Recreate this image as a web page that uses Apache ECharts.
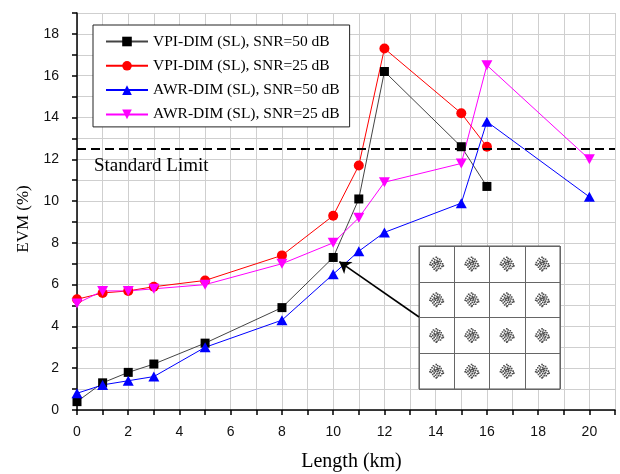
<!DOCTYPE html>
<html>
<head>
<meta charset="utf-8">
<script src="https://cdn.jsdelivr.net/npm/echarts@6/dist/echarts.min.js"></script>
<style>html,body{margin:0;padding:0;background:#fff;}#c{width:620px;height:474px;}</style>
</head>
<body>
<div id="c"></div>
<script>
// ---- data ----
const lengthVPI = [0, 1, 2, 3, 5, 8, 10, 11, 12, 15, 16];
const lengthAWR = [0, 1, 2, 3, 5, 8, 10, 11, 12, 15, 16, 20];
const vpiSnr50 = [0.4, 1.3, 1.8, 2.2, 3.2, 4.9, 7.3, 10.1, 16.2, 12.6, 10.7];
const vpiSnr25 = [5.3, 5.6, 5.7, 5.9, 6.2, 7.4, 9.3, 11.7, 17.3, 14.2, 12.6];
const awrSnr50 = [0.8, 1.2, 1.4, 1.6, 3.0, 4.3, 6.5, 7.6, 8.5, 9.9, 13.8, 10.2];
const awrSnr25 = [5.1, 5.7, 5.7, 5.8, 6.0, 7.0, 8.0, 9.2, 10.9, 11.8, 16.5, 12.0];
const seriesNames = ['VPI-DIM (SL), SNR=50 dB', 'VPI-DIM (SL), SNR=25 dB', 'AWR-DIM (SL), SNR=50 dB', 'AWR-DIM (SL), SNR=25 dB'];
const standardLimit = 12.5;
const standardLimitLabel = 'Standard Limit';
const arrowFrom = [13.35, 4.45];
const arrowTo = [10.24, 7.1];
const qamLevels = [-3, -1, 1, 3];
const xName = 'Length (km)';
const yName = 'EVM (%)';

// ---- styles ----
const SERIF = '"Liberation Serif", "Times New Roman", serif';
const SANS = '"Liberation Sans", Arial, sans-serif';
const gridLineStyle = { color: '#cfcfcf', width: 1 };

function pairs(xs, ys) { return xs.map((x, i) => [x, ys[i]]); }

// a noisy-cloud symbol shape for the constellation inset
const dotShape = [[9,0],[5,2],[11,2],[14,3],[7,4],[10,5],[3,5],[13,6],[16,6],[6,7],[9,8],[1,8],[12,9],[15,9],[18,10],[4,10],[8,11],[11,11],[14,12],[2,12],[6,13],[10,14],[13,14],[17,14],[4,15],[8,16],[12,17],[15,17],[6,18],[10,19],[0,11],[19,13],[9,20],[7,9],[11,7]];
const cloudPath = 'path://' + dotShape.map(d => 'M' + d[0] + ' ' + d[1] + 'h2.3v2.3h-2.3z').join(' ');

const qamPoints = [];
qamLevels.forEach(i => qamLevels.forEach(q => qamPoints.push([i, q])));

const chart = echarts.init(document.getElementById('c'), null, { renderer: 'canvas' });

const option = {
  backgroundColor: '#fff',
  animation: false,
  grid: [
    { left: 77, right: 5, top: 13, bottom: 64, containLabel: false, outerBoundsMode: 'none' },
    { left: 419, top: 246, width: 141, height: 143, show: true, backgroundColor: '#fff', borderColor: '#555', borderWidth: 1, z: 3, outerBoundsMode: 'none' }
  ],
  legend: {
    orient: 'vertical',
    left: 93, top: 25,
    padding: [8, 10, 4, 12],
    itemWidth: 42, itemHeight: 12, itemGap: 7.3,
    backgroundColor: '#fff',
    borderColor: '#222', borderWidth: 1, borderRadius: 0,
    textStyle: { fontFamily: SERIF, fontSize: 15.5, color: '#000', lineHeight: 17 },
    data: seriesNames
  },
  xAxis: [
    {
      type: 'value', gridIndex: 0, min: 0, max: 21, interval: 1,
      name: xName, nameLocation: 'middle', nameGap: 42,
      nameTextStyle: { fontFamily: SERIF, fontSize: 20, color: '#000', padding: [0, 0, 0, 11] },
      axisLine: { show: true, onZero: false, lineStyle: { color: '#000', width: 1.5 } },
      axisTick: { show: true, length: 5, lineStyle: { color: '#000', width: 1.5 } },
      axisLabel: { margin: 15, fontFamily: SANS, fontSize: 14, color: '#111',
        formatter: v => (v % 2 === 0 && v <= 20) ? String(v) : '' },
      splitLine: { show: true, lineStyle: gridLineStyle }
    },
    {
      type: 'value', gridIndex: 1, min: -4, max: 4, interval: 2, z: 4,
      axisLine: { show: false }, axisTick: { show: false }, axisLabel: { show: false },
      splitLine: { show: true, lineStyle: { color: '#666', width: 1 } }
    }
  ],
  yAxis: [
    {
      type: 'value', gridIndex: 0, min: 0, max: 19, interval: 1,
      name: yName, nameLocation: 'middle', nameGap: 40,
      nameTextStyle: { fontFamily: SERIF, fontSize: 17, color: '#000', padding: [0, 15, 0, 0] },
      axisLine: { show: true, onZero: false, lineStyle: { color: '#000', width: 1.5 } },
      axisTick: { show: true, length: 5, lineStyle: { color: '#000', width: 1.5 } },
      axisLabel: { margin: 18, fontFamily: SANS, fontSize: 14, color: '#111',
        formatter: v => (v % 2 === 0 && v <= 18) ? String(v) : '' },
      splitLine: { show: true, lineStyle: gridLineStyle }
    },
    {
      type: 'value', gridIndex: 1, min: -4, max: 4, interval: 2, z: 4,
      axisLine: { show: false }, axisTick: { show: false }, axisLabel: { show: false },
      splitLine: { show: true, lineStyle: { color: '#666', width: 1 } }
    }
  ],
  series: [
    {
      name: seriesNames[0], type: 'line', xAxisIndex: 0, yAxisIndex: 0,
      data: pairs(lengthVPI, vpiSnr50),
      symbol: 'rect', symbolSize: 9,
      lineStyle: { color: '#444', width: 1 },
      itemStyle: { color: '#000' },
      markLine: {
        silent: true, symbol: ['none', 'arrow'], symbolSize: 11,
        label: { show: false },
        lineStyle: { color: '#000', width: 1.6, type: 'solid' },
        data: [[{ coord: arrowFrom }, { coord: arrowTo }]]
      }
    },
    {
      name: seriesNames[1], type: 'line', xAxisIndex: 0, yAxisIndex: 0,
      data: pairs(lengthVPI, vpiSnr25),
      symbol: 'circle', symbolSize: 10,
      lineStyle: { color: '#ff0000', width: 1 },
      itemStyle: { color: '#ff0000' },
      markLine: {
        silent: true, symbol: ['none', 'none'],
        label: { show: false },
        lineStyle: { color: '#000', width: 2, type: [9, 5] },
        data: [{ yAxis: standardLimit }]
      }
    },
    {
      name: seriesNames[2], type: 'line', xAxisIndex: 0, yAxisIndex: 0,
      data: pairs(lengthAWR, awrSnr50),
      symbol: 'triangle', symbolSize: [11, 10],
      lineStyle: { color: '#0000ff', width: 1 },
      itemStyle: { color: '#0000ff' }
    },
    {
      name: seriesNames[3], type: 'line', xAxisIndex: 0, yAxisIndex: 0,
      data: pairs(lengthAWR, awrSnr25),
      symbol: 'path://M0 0L2 0L1 1.8Z', symbolSize: [11, 10],
      lineStyle: { color: '#ff00ff', width: 1 },
      itemStyle: { color: '#ff00ff' }
    },
    {
      name: 'constellation', type: 'scatter', xAxisIndex: 1, yAxisIndex: 1,
      data: qamPoints, symbol: cloudPath, symbolSize: 15, z: 5,
      itemStyle: { color: '#222' }, silent: true
    }
  ],
  graphic: [
    {
      type: 'text', left: 94, top: 157, z: 10,
      style: { text: standardLimitLabel, fontFamily: SERIF, fontSize: 19, fill: '#000' }
    }
  ]
};
chart.setOption(option);
</script>
</body>
</html>
